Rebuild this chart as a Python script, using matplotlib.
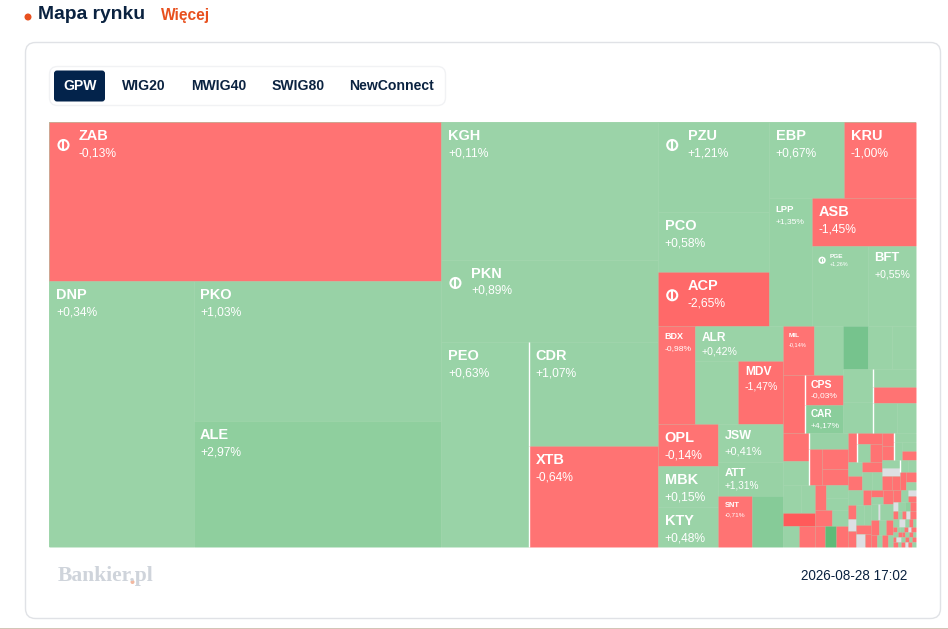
import numpy as np
import matplotlib
matplotlib.use("Agg")
import matplotlib.pyplot as plt
from matplotlib.patches import Rectangle, FancyBboxPatch, Circle

# spolki z etykieta
nazwy = ["ZAB", "DNP", "PKO", "ALE", "KGH", "PKN", "PEO", "CDR", "XTB",
         "PZU", "PCO", "ACP", "EBP", "KRU", "LPP", "ASB", "PGE", "BFT",
         "BDX", "ALR", "MDV", "OPL", "MBK", "KTY", "JSW", "ATT", "SNT",
         "MIL", "CPS", "CAR"]
wagi = [623, 383, 347, 312, 299, 178, 180, 134, 130,
        100, 66.6, 60, 57, 54.7, 55, 50, 44.8, 38.4,
        36.3, 30.5, 27.7, 25.2, 24.6, 24, 24.3, 21.8, 17.3,
        15.2, 11.4, 10.6]
zmiany = [-0.13, 0.34, 1.03, 2.97, 0.11, 0.89, 0.63, 1.07, -0.64,
          1.21, 0.58, -2.65, 0.67, -1.00, 1.35, -1.45, 1.26, 0.55,
          -0.98, 0.42, -1.47, -0.14, 0.15, 0.48, 0.41, 1.31, -0.71,
          -0.14, -0.03, 4.17]

# spolki bez etykiety, w kolejnosci przechodzenia drzewa
drobne_wagi = [27.09, 15.3, 14.21, 12.76, 10.92, 10.08, 10.08, 10.2, 9.3, 7.74, 7.31, 7.2, 5.7,
               7.28, 6.24, 6.0, 5.04, 5.2, 4.16,
               5.04, 3.92, 4.16, 3.36, 3.36,
               2.86, 2.73, 2.73, 2.72, 2.56, 2.2, 2.2, 2.4,
               2.61, 2.75, 2.34, 2.16, 1.96, 1.96, 2.0, 1.8, 1.8,
               1.56, 1.68, 1.98, 1.44, 1.26, 1.26, 1.44, 1.44, 1.4, 1.12, 0.96, 0.96, 1.08, 1.0, 0.8,
               2.25, 1.2, 1.12, 0.96, 1.28, 1.6, 1.4, 1.35, 1.17, 0.78,
               0.84, 0.84, 1.4, 1.12, 0.32, 2.08, 1.2, 1.05, 1.05, 0.72, 0.6, 0.72, 0.6,
               0.96, 0.84, 0.48, 0.48, 0.45, 0.63, 0.45, 0.54,
               0.4, 0.32, 0.32, 0.32, 0.48, 0.48, 0.48, 0.32, 0.32, 0.24,
               0.2, 0.15, 0.2, 0.2, 0.15, 0.25, 0.25, 0.2, 0.15, 0.2, 0.2, 0.15,
               0.15, 0.25, 0.2, 0.2, 0.15, 0.2, 0.25, 0.15, 0.2, 0.15, 0.2, 0.2]
drobne_zmiany = [0.3, 4.5, 0.4, -1.5, 5.6, 0.4, 0.4, 0.4, 0.6, 0.5, -1.0, 1.0, 0.6,
                 -1.2, 0.5, 1.0, -1.0, -1.0, -1.0,
                 0.4, 0.5, -3.5, 0.6, -1.0,
                 -1.0, 0.5, 0.7, -1.0, 0.6, -1.0, 7.0, -1.2,
                 -1.0, -1.3, 1.2, -0.9, 0.6, -1.0, -1.0, 0.8, 0.6,
                 -1.0, -0.8, 0.5, 0.7, 0.5, -1.0, 0.5, 0.0, -1.0, -1.2, 0.5, 0.5, -1.5, -1.0, 0.5,
                 0.6, -1.0, -1.0, 0.0, -1.0, 0.6, 0.8, -1.0, 0.0, -1.0,
                 -1.3, 0.6, -1.0, 0.6, 0.0, 0.8, -1.2, 0.6, -1.0, -1.0, 0.6, -1.0, 0.6,
                 -1.0, 0.6, 0.0, -1.0, 0.0, 0.6, 3.0, -1.0,
                 -1.0, 0.6, -1.0, 0.0, -1.0, 0.6, 0.0, 0.6, -1.0, 0.6,
                 -1.0, 0.6, 0.6, -1.0, 0.0, -1.0, 0.6, -1.0, -1.0, 0.6, -1.0, 0.6,
                 -1.0, 0.0, 0.6, -1.0, 0.6, -1.0, -1.0, 0.6, -1.0, 0.0, -1.0, 0.6]

zakladki = ["GPW", "WIG20", "MWIG40", "SWIG80", "NewConnect"]
data_notowan = "2026-08-28 17:02"

# styl etykiet: rozmiar nazwy, rozmiar zmiany (px), odstepy od gory komorki
styl_domyslny = (14.5, 12, 14, 31)
style = {"LPP": (9.5, 8.5, 11, 23), "BDX": (9, 8.5, 10, 22), "ALR": (12, 10.5, 12, 25),
         "MDV": (12, 10.5, 11, 25), "JSW": (12.5, 11, 12, 27), "ATT": (11.5, 10, 11, 23),
         "SNT": (7.5, 6.5, 9, 19), "MIL": (6.5, 5.5, 9, 18), "PGE": (6.5, 5.5, 10, 18),
         "CPS": (10.5, 8.5, 10, 20), "CAR": (10, 8.5, 9, 20), "BFT": (13, 10.5, 12, 28)}
z_ikona = {"ZAB": 29.5, "PKN": 29.5, "PZU": 29.5, "ACP": 29.5, "PGE": 18}
biale_brzegi = ["CDR", "XTB", "CPS", "CAR"]


def H(*dzieci):
    return ("h", dzieci)


def V(*dzieci):
    return ("v", dzieci)


# "." to mala spolka bez etykiety, "|" to samo z bialym lewym brzegiem
kol1 = V("ZAB", H("DNP", V("PKO", "ALE")))
kol2 = V("KGH", "PKN", H("PEO", V("CDR", "XTB")))
blok_a = V(H("MIL", "."), H(".", V("CPS", "CAR")))
blok_b = V(H(".", ".", "."), H(V(".", "."), V("|", "|", H("|", "."))))
dol_lewy = V(H(V(".", "."), V("|", H("|", V(".", ".")))),
             H(V(H(".", "."), ".", H(".", ".")),
               V(H(".", V(".", ".")), H(".", "."), H(".", ".", "."))))
dol_a = V(H(".", V("|", H("|", "."))), H(V(".", "."), V(".", H(".", "."))))
dol_b = V(H(V(".", "."), V("|", H("|", V(".", ".")))),
          H(V(".", ".", H(".", ".")), V(H("|", "."), H(".", V(".", ".")))))
gest_1 = V(H(".", "."), H(V(".", ".", "."), V(H(".", "."), ".", H(".", "."))))
gest_2 = V(H(V(".", "."), "."), H(".", ".", "."), H(".", ".", "."), H(".", ".", ".", "."))
gest_3 = V(H(".", ".", V(".", ".")), H(".", ".", ".", "."),
           H(".", ".", ".", ".", "."), H(".", ".", ".", ".", "."),
           H(".", ".", ".", ".", ".", "."), H(".", ".", ".", ".", ".", "."),
           H(".", ".", ".", ".", ".", "."), H(".", ".", ".", ".", ".", "."))
kol3 = V(H(V("PZU", "PCO", "ACP"),
           V(H("EBP", "KRU"), H("LPP", V("ASB", H("PGE", "BFT"))))),
         H(V(H("BDX", V("ALR", H(".", "MDV"))),
             H(V("OPL", "MBK", "KTY"), V("JSW", "ATT", H("SNT", ".")))),
           V(H(blok_a, blok_b),
             H(dol_lewy, V(H(dol_a, dol_b), H(gest_1, gest_2, gest_3))))))
drzewo = H(kol1, kol2, kol3)

slownik_wag = dict(zip(nazwy, wagi))
slownik_zmian = dict(zip(nazwy, zmiany))


# zamiana galezi na liscie (nazwa, waga, zmiana), male spolki biora kolejne wartosci
def zbuduj(wezel, licznik):
    if isinstance(wezel, str):
        if wezel in (".", "|"):
            i = next(licznik)
            return {"nazwa": None, "waga": drobne_wagi[i], "zmiana": drobne_zmiany[i],
                    "bialy": wezel == "|"}
        return {"nazwa": wezel, "waga": slownik_wag[wezel], "zmiana": slownik_zmian[wezel],
                "bialy": wezel in biale_brzegi}
    kier, dzieci = wezel
    dzieci = [zbuduj(d, licznik) for d in dzieci]
    return {"kier": kier, "dzieci": dzieci, "waga": sum(d["waga"] for d in dzieci)}


def rozloz(wezel, x, y, w, h, wynik):
    if "kier" not in wezel:
        wynik.append((wezel, x, y, w, h))
        return
    for d in wezel["dzieci"]:
        udzial = d["waga"] / wezel["waga"]
        if wezel["kier"] == "h":
            rozloz(d, x, y, w * udzial, h, wynik)
            x += w * udzial
        else:
            rozloz(d, x, y, w, h * udzial, wynik)
            y += h * udzial


def kolor(z):
    if z == 0:
        return "#DDDFE3"
    if z < 0:
        pkt = [-4, -2.7, -1, 0]
        kan = [[255, 255, 255, 255], [80, 105, 115, 115], [80, 105, 115, 115]]
    else:
        pkt = [0, 1.5, 3, 4.2, 5.5, 7]
        kan = [[155, 151, 143, 138, 120, 95], [211, 210, 207, 205, 196, 187], [168, 165, 158, 155, 143, 120]]
    return tuple(np.interp(z, pkt, k) / 255 for k in kan)


def px(p):
    return p * 0.72


plt.rcParams["font.family"] = ["Liberation Sans", "DejaVu Sans"]
granat = "#0A2240"
pomarancz = "#E8501E"

fig = plt.figure(figsize=(9.48, 6.29), dpi=100)
ax = fig.add_axes([0, 0, 1, 1])
ax.set_xlim(0, 948)
ax.set_ylim(629, 0)
ax.axis("off")

# naglowek
ax.add_patch(Circle((28, 17), 2.8, color=pomarancz))
ax.text(38, 14.5, "Mapa rynku", fontsize=px(19.3), fontweight="bold", color=granat, va="center")
ax.text(161, 15.5, "Więcej", fontsize=px(15.5), fontweight="bold", color=pomarancz, va="center")

# karta i zakladki
ax.add_patch(FancyBboxPatch((25.5, 42.5), 915, 576, boxstyle="round,pad=0,rounding_size=10",
                            fc="white", ec="#E0E2E6", lw=1))
ax.add_patch(FancyBboxPatch((49.5, 66.5), 396, 39, boxstyle="round,pad=0,rounding_size=8",
                            fc="white", ec="#F1F2F4", lw=1))
ax.add_patch(FancyBboxPatch((54, 70.5), 51, 31, boxstyle="round,pad=0,rounding_size=3",
                            fc="#03234B", ec="none"))
srodki = [80, 144, 218.5, 298.5, 392]
for i, (t, xs) in enumerate(zip(zakladki, srodki)):
    ax.text(xs, 86.5, t, ha="center", va="center", fontsize=px(14), fontweight="bold",
            color="white" if i == 0 else granat)

# treemap, tlo pod spodem zeby biale nie przeswitywalo na stykach
korzen = zbuduj(drzewo, iter(range(len(drobne_wagi))))
komorki = []
rozloz(korzen, 49.5, 122, 866.5, 425, komorki)
ax.add_patch(Rectangle((49.5, 122), 866.5, 425, fc="#9BD3A8", ec="none"))
for w, x, y, sz, wy in komorki:
    ax.add_patch(Rectangle((x, y), sz, wy, fc=kolor(w["zmiana"]), ec=(1, 1, 1, 0.06), lw=0.6))
for w, x, y, sz, wy in komorki:
    if w["bialy"]:
        ax.plot([x, x], [y, y + wy], color="white", lw=1.0, solid_capstyle="butt")
    if w["nazwa"] is None:
        continue
    rn, rz, dn, dz = style.get(w["nazwa"], styl_domyslny)
    dx = z_ikona.get(w["nazwa"], 6.5)
    ax.text(x + dx, y + dn, w["nazwa"], color="white", fontsize=px(rn), fontweight="bold", va="center")
    etyk = f"{w['zmiana']:+.2f}".replace(".", ",") + "%"
    ax.text(x + dx, y + dz, etyk, color="white", fontsize=px(rz), va="center")
    if w["nazwa"] in z_ikona:
        duza = w["nazwa"] != "PGE"
        r = 5.0 if duza else 2.8
        cx, cy = (x + 14, y + 23) if duza else (x + 10, y + 14)
        ax.add_patch(Circle((cx, cy), r, fc="none", ec="white", lw=1.5 if duza else 1.2))
        ax.plot([cx, cx], [cy - r * 0.55, cy + r * 0.55], color="white", lw=1.5 if duza else 0.8)

# stopka
ax.text(58, 576, "Bankier.pl", family=["Liberation Serif"], fontsize=px(21.5), fontweight="bold",
        color="#CFD4DB", va="center")
ax.add_patch(Circle((132.5, 582), 1.3, color="#F2B8A0"))
ax.text(907, 576, data_notowan, fontsize=px(13.5), color=granat, ha="right", va="center")
ax.plot([0, 948], [628.5, 628.5], color="#C9BBAA", lw=1.2)

fig.savefig("out.png", dpi=100)
